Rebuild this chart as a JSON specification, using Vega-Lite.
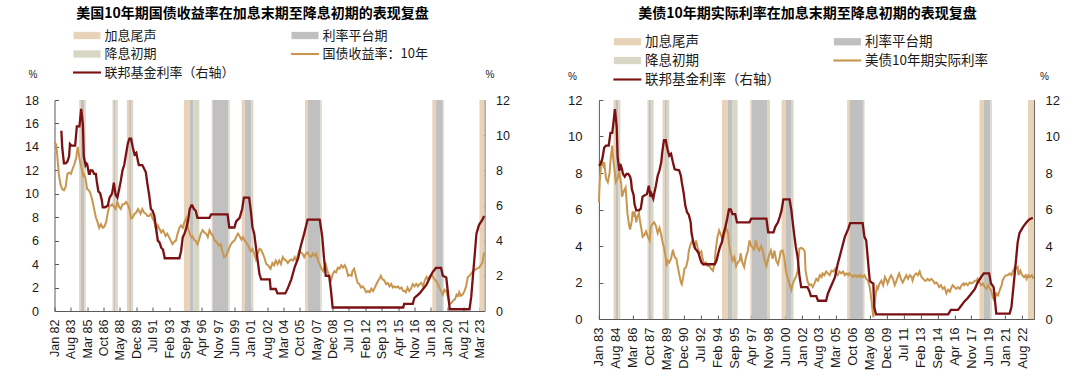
{
"$schema":"https://vega.github.io/schema/vega-lite/v6.json",
"background":"white",
"padding":{"left":24.5,"top":7,"right":0,"bottom":0},
"spacing":114.4,
"bounds":"flush",
"config":{"font":"Liberation Sans","view":{"stroke":null},"axis":{"grid":false,"domainColor":"#595959","tickColor":"#595959","labelColor":"#1a1a1a","labelFont":"Liberation Sans","titleFont":"Liberation Sans","titleFontWeight":"normal","titleColor":"#1a1a1a"}},
"resolve":{"scale":{"color":"independent"},"legend":{"color":"independent"}},
"datasets":{
"bandsL":[
{"d":"1984-05-21","e":"1984-07-18","t":"加息尾声"},{"d":"1984-07-18","e":"1984-11-15","t":"利率平台期"},{"d":"1984-11-15","e":"1985-01-12","t":"降息初期"},
{"d":"1987-08-12","e":"1987-10-01","t":"加息尾声"},{"d":"1987-10-01","e":"1987-11-27","t":"利率平台期"},{"d":"1987-11-27","e":"1988-02-18","t":"降息初期"},
{"d":"1989-01-03","e":"1989-03-24","t":"加息尾声"},{"d":"1989-03-24","e":"1989-06-03","t":"利率平台期"},{"d":"1989-06-03","e":"1989-08-15","t":"降息初期"},
{"d":"1994-07-12","e":"1995-02-01","t":"加息尾声"},{"d":"1995-02-01","e":"1995-06-18","t":"利率平台期"},{"d":"1995-06-18","e":"1996-01-06","t":"降息初期"},
{"d":"1997-03-18","e":"1997-04-21","t":"加息尾声"},{"d":"1997-04-21","e":"1998-10-27","t":"利率平台期"},{"d":"1998-10-27","e":"1998-12-15","t":"降息初期"},
{"d":"2000-02-12","e":"2000-06-01","t":"加息尾声"},{"d":"2000-06-01","e":"2001-01-21","t":"利率平台期"},{"d":"2001-01-21","e":"2001-04-01","t":"降息初期"},
{"d":"2006-04-01","e":"2006-07-01","t":"加息尾声"},{"d":"2006-07-01","e":"2007-09-24","t":"利率平台期"},{"d":"2007-09-24","e":"2007-11-12","t":"降息初期"},
{"d":"2018-07-27","e":"2018-12-06","t":"加息尾声"},{"d":"2018-12-06","e":"2019-08-01","t":"利率平台期"},{"d":"2019-08-01","e":"2019-09-03","t":"降息初期"},
{"d":"2023-02-15","e":"2023-08-13","t":"加息尾声"}],
"bandsR":[
{"d":"1984-05-15","e":"1984-07-20","t":"加息尾声"},{"d":"1984-07-20","e":"1984-10-20","t":"利率平台期"},{"d":"1984-10-20","e":"1985-01-01","t":"降息初期"},
{"d":"1987-07-18","e":"1987-09-01","t":"加息尾声"},{"d":"1987-09-01","e":"1987-11-12","t":"利率平台期"},{"d":"1987-11-12","e":"1988-02-12","t":"降息初期"},
{"d":"1988-12-15","e":"1989-03-03","t":"加息尾声"},{"d":"1989-03-03","e":"1989-05-10","t":"利率平台期"},{"d":"1989-05-10","e":"1989-08-01","t":"降息初期"},
{"d":"1994-07-03","e":"1995-01-15","t":"加息尾声"},{"d":"1995-01-15","e":"1995-07-03","t":"利率平台期"},{"d":"1995-07-03","e":"1995-12-21","t":"降息初期"},
{"d":"1997-02-27","e":"1997-04-12","t":"加息尾声"},{"d":"1997-04-12","e":"1998-10-12","t":"利率平台期"},{"d":"1998-10-12","e":"1999-01-01","t":"降息初期"},
{"d":"2000-02-03","e":"2000-06-18","t":"加息尾声"},{"d":"2000-06-18","e":"2001-01-10","t":"利率平台期"},{"d":"2001-01-10","e":"2001-03-18","t":"降息初期"},
{"d":"2006-03-21","e":"2006-06-21","t":"加息尾声"},{"d":"2006-06-21","e":"2007-09-10","t":"利率平台期"},{"d":"2007-09-10","e":"2007-11-06","t":"降息初期"},
{"d":"2018-08-06","e":"2019-01-01","t":"加息尾声"},{"d":"2019-01-01","e":"2019-08-06","t":"利率平台期"},{"d":"2019-08-06","e":"2019-10-01","t":"降息初期"},
{"d":"2023-02-15","e":"2023-09-07","t":"加息尾声"}],
"y10":[
{"d":"1982-01-01","v":14.4},{"d":"1982-03-01","v":14.2},{"d":"1982-04-01","v":13.5},{"d":"1982-06-01","v":11.7},{"d":"1982-08-01","v":10.8},{"d":"1982-10-01","v":10.4},{"d":"1982-12-01","v":10.3},{"d":"1983-02-01","v":10.6},{"d":"1983-04-01","v":11.7},{"d":"1983-06-01","v":11.8},{"d":"1983-08-01","v":11.7},{"d":"1983-10-01","v":12.1},{"d":"1983-12-01","v":12.5},{"d":"1984-02-01","v":13.0},{"d":"1984-04-01","v":14.0},{"d":"1984-06-01","v":13.0},{"d":"1984-08-01","v":12.3},{"d":"1984-10-01","v":11.6},{"d":"1984-11-01","v":11.7},{"d":"1985-01-01","v":11.3},{"d":"1985-03-01","v":10.4},{"d":"1985-05-01","v":10.3},{"d":"1985-07-01","v":10.0},{"d":"1985-09-01","v":9.4},{"d":"1985-11-01","v":8.7},{"d":"1986-01-01","v":8.0},{"d":"1986-03-01","v":7.6},{"d":"1986-05-01","v":7.1},{"d":"1986-07-01","v":7.4},{"d":"1986-09-01","v":7.1},{"d":"1986-11-01","v":7.2},{"d":"1987-01-01","v":7.6},{"d":"1987-03-01","v":8.4},{"d":"1987-05-01","v":9.0},{"d":"1987-07-01","v":9.0},{"d":"1987-08-01","v":9.1},{"d":"1987-10-01","v":8.9},{"d":"1987-12-01","v":8.7},{"d":"1988-02-01","v":9.3},{"d":"1988-04-01","v":8.9},{"d":"1988-06-01","v":8.7},{"d":"1988-08-01","v":9.1},{"d":"1988-10-01","v":9.1},{"d":"1988-12-01","v":9.3},{"d":"1989-02-01","v":9.1},{"d":"1989-04-01","v":8.7},{"d":"1989-06-01","v":7.9},{"d":"1989-08-01","v":8.0},{"d":"1989-10-01","v":8.3},{"d":"1989-12-01","v":8.4},{"d":"1990-02-01","v":8.7},{"d":"1990-03-01","v":8.6},{"d":"1990-05-01","v":8.3},{"d":"1990-07-01","v":8.7},{"d":"1990-09-01","v":8.4},{"d":"1990-11-01","v":8.3},{"d":"1991-01-01","v":8.1},{"d":"1991-03-01","v":8.1},{"d":"1991-05-01","v":8.3},{"d":"1991-07-01","v":7.9},{"d":"1991-09-01","v":7.6},{"d":"1991-11-01","v":6.9},{"d":"1992-01-01","v":7.3},{"d":"1992-03-01","v":7.0},{"d":"1992-05-01","v":6.7},{"d":"1992-07-01","v":6.9},{"d":"1992-09-01","v":6.6},{"d":"1992-10-01","v":6.4},{"d":"1992-12-01","v":6.6},{"d":"1993-02-01","v":6.3},{"d":"1993-04-01","v":6.0},{"d":"1993-06-01","v":5.7},{"d":"1993-08-01","v":5.9},{"d":"1993-10-01","v":6.0},{"d":"1993-12-01","v":6.6},{"d":"1994-02-01","v":7.1},{"d":"1994-04-01","v":7.3},{"d":"1994-06-01","v":7.1},{"d":"1994-08-01","v":7.6},{"d":"1994-10-01","v":7.9},{"d":"1994-12-01","v":7.1},{"d":"1995-02-01","v":6.6},{"d":"1995-04-01","v":6.3},{"d":"1995-05-01","v":6.4},{"d":"1995-07-01","v":6.1},{"d":"1995-09-01","v":6.0},{"d":"1995-11-01","v":5.7},{"d":"1996-01-01","v":6.1},{"d":"1996-03-01","v":6.6},{"d":"1996-05-01","v":6.9},{"d":"1996-07-01","v":6.7},{"d":"1996-09-01","v":6.6},{"d":"1996-11-01","v":6.3},{"d":"1997-01-01","v":6.9},{"d":"1997-03-01","v":6.6},{"d":"1997-05-01","v":6.4},{"d":"1997-07-01","v":6.0},{"d":"1997-09-01","v":5.9},{"d":"1997-11-01","v":5.7},{"d":"1997-12-01","v":5.6},{"d":"1998-02-01","v":5.7},{"d":"1998-04-01","v":5.1},{"d":"1998-06-01","v":4.6},{"d":"1998-08-01","v":4.7},{"d":"1998-10-01","v":5.0},{"d":"1998-12-01","v":5.4},{"d":"1999-02-01","v":5.7},{"d":"1999-04-01","v":5.9},{"d":"1999-06-01","v":6.0},{"d":"1999-08-01","v":6.3},{"d":"1999-10-01","v":6.6},{"d":"1999-12-01","v":6.4},{"d":"2000-02-01","v":6.1},{"d":"2000-04-01","v":6.3},{"d":"2000-06-01","v":6.0},{"d":"2000-07-01","v":5.9},{"d":"2000-09-01","v":5.7},{"d":"2000-11-01","v":5.4},{"d":"2001-01-01","v":5.1},{"d":"2001-03-01","v":5.3},{"d":"2001-05-01","v":4.9},{"d":"2001-07-01","v":4.4},{"d":"2001-09-01","v":4.9},{"d":"2001-11-01","v":5.3},{"d":"2002-01-01","v":5.2},{"d":"2002-03-01","v":4.9},{"d":"2002-05-01","v":4.5},{"d":"2002-07-01","v":4.0},{"d":"2002-09-01","v":3.9},{"d":"2002-11-01","v":3.7},{"d":"2002-12-01","v":3.6},{"d":"2003-02-01","v":4.1},{"d":"2003-04-01","v":3.9},{"d":"2003-06-01","v":4.3},{"d":"2003-08-01","v":4.0},{"d":"2003-10-01","v":4.3},{"d":"2003-12-01","v":4.0},{"d":"2004-02-01","v":4.6},{"d":"2004-04-01","v":4.4},{"d":"2004-06-01","v":4.3},{"d":"2004-08-01","v":4.1},{"d":"2004-10-01","v":4.3},{"d":"2004-12-01","v":4.4},{"d":"2005-02-01","v":4.3},{"d":"2005-04-01","v":4.6},{"d":"2005-06-01","v":4.3},{"d":"2005-07-01","v":4.6},{"d":"2005-09-01","v":5.1},{"d":"2005-11-01","v":5.0},{"d":"2006-01-01","v":4.9},{"d":"2006-03-01","v":4.6},{"d":"2006-05-01","v":4.9},{"d":"2006-07-01","v":5.0},{"d":"2006-09-01","v":4.7},{"d":"2006-11-01","v":4.6},{"d":"2007-01-01","v":4.9},{"d":"2007-03-01","v":4.7},{"d":"2007-05-01","v":4.9},{"d":"2007-07-01","v":4.3},{"d":"2007-09-01","v":4.0},{"d":"2007-11-01","v":3.6},{"d":"2008-01-01","v":3.4},{"d":"2008-02-01","v":3.7},{"d":"2008-04-01","v":4.0},{"d":"2008-06-01","v":3.4},{"d":"2008-08-01","v":3.0},{"d":"2008-10-01","v":2.6},{"d":"2008-12-01","v":3.1},{"d":"2009-02-01","v":3.4},{"d":"2009-04-01","v":3.3},{"d":"2009-06-01","v":3.7},{"d":"2009-08-01","v":3.6},{"d":"2009-10-01","v":3.9},{"d":"2009-12-01","v":3.7},{"d":"2010-02-01","v":3.9},{"d":"2010-04-01","v":3.6},{"d":"2010-06-01","v":3.0},{"d":"2010-08-01","v":3.1},{"d":"2010-10-01","v":3.0},{"d":"2010-11-01","v":3.4},{"d":"2011-01-01","v":3.6},{"d":"2011-03-01","v":3.0},{"d":"2011-05-01","v":2.4},{"d":"2011-07-01","v":2.3},{"d":"2011-09-01","v":2.0},{"d":"2011-11-01","v":2.1},{"d":"2012-01-01","v":1.9},{"d":"2012-03-01","v":1.6},{"d":"2012-05-01","v":1.7},{"d":"2012-07-01","v":1.6},{"d":"2012-09-01","v":1.9},{"d":"2012-11-01","v":1.7},{"d":"2013-01-01","v":2.0},{"d":"2013-03-01","v":2.3},{"d":"2013-05-01","v":2.6},{"d":"2013-06-01","v":2.7},{"d":"2013-08-01","v":3.0},{"d":"2013-10-01","v":2.7},{"d":"2013-12-01","v":2.6},{"d":"2014-02-01","v":2.3},{"d":"2014-04-01","v":2.4},{"d":"2014-06-01","v":2.1},{"d":"2014-08-01","v":2.3},{"d":"2014-10-01","v":2.0},{"d":"2014-12-01","v":2.1},{"d":"2015-02-01","v":2.0},{"d":"2015-04-01","v":2.1},{"d":"2015-06-01","v":1.9},{"d":"2015-08-01","v":2.0},{"d":"2015-10-01","v":1.7},{"d":"2015-12-01","v":1.7},{"d":"2016-01-01","v":1.6},{"d":"2016-03-01","v":2.0},{"d":"2016-05-01","v":1.7},{"d":"2016-07-01","v":1.9},{"d":"2016-09-01","v":2.3},{"d":"2016-11-01","v":2.1},{"d":"2017-01-01","v":2.3},{"d":"2017-03-01","v":2.1},{"d":"2017-05-01","v":2.3},{"d":"2017-07-01","v":2.4},{"d":"2017-09-01","v":2.1},{"d":"2017-11-01","v":2.6},{"d":"2018-01-01","v":2.9},{"d":"2018-03-01","v":2.7},{"d":"2018-05-01","v":3.0},{"d":"2018-07-01","v":3.1},{"d":"2018-08-01","v":3.0},{"d":"2018-10-01","v":2.7},{"d":"2018-12-01","v":2.6},{"d":"2019-02-01","v":2.3},{"d":"2019-04-01","v":2.0},{"d":"2019-06-01","v":1.7},{"d":"2019-08-01","v":1.4},{"d":"2019-10-01","v":1.8},{"d":"2019-12-01","v":1.7},{"d":"2020-02-01","v":1.1},{"d":"2020-04-01","v":0.6},{"d":"2020-06-01","v":0.7},{"d":"2020-08-01","v":0.9},{"d":"2020-10-01","v":1.0},{"d":"2020-12-01","v":1.4},{"d":"2021-02-01","v":1.3},{"d":"2021-03-01","v":1.6},{"d":"2021-05-01","v":1.3},{"d":"2021-07-01","v":1.4},{"d":"2021-09-01","v":1.7},{"d":"2021-11-01","v":2.1},{"d":"2022-01-01","v":2.9},{"d":"2022-03-01","v":3.0},{"d":"2022-07-01","v":3.4},{"d":"2022-11-01","v":3.6},{"d":"2023-02-01","v":3.7},{"d":"2023-06-01","v":4.1},{"d":"2023-08-01","v":5.0}],
"ffL":[
{"d":"1982-09-01","v":10.25},{"d":"1982-10-01","v":9.3},{"d":"1982-12-01","v":8.4},{"d":"1983-02-01","v":8.4},{"d":"1983-04-01","v":8.5},{"d":"1983-06-01","v":8.8},{"d":"1983-07-01","v":9.5},{"d":"1983-09-01","v":9.4},{"d":"1984-01-01","v":9.4},{"d":"1984-03-01","v":10.5},{"d":"1984-06-01","v":10.5},{"d":"1984-08-01","v":11.5},{"d":"1984-10-01","v":10.6},{"d":"1984-11-01","v":8.8},{"d":"1985-01-01","v":8.3},{"d":"1985-02-01","v":8.4},{"d":"1985-03-01","v":8.35},{"d":"1985-05-01","v":7.8},{"d":"1985-06-01","v":7.8},{"d":"1985-07-01","v":8.0},{"d":"1985-09-01","v":8.0},{"d":"1985-11-01","v":7.8},{"d":"1986-01-01","v":7.8},{"d":"1986-02-01","v":7.4},{"d":"1986-04-01","v":6.8},{"d":"1986-06-01","v":6.7},{"d":"1986-08-01","v":6.3},{"d":"1986-09-01","v":5.9},{"d":"1986-12-01","v":5.9},{"d":"1987-03-01","v":6.0},{"d":"1987-05-01","v":6.45},{"d":"1987-07-01","v":6.6},{"d":"1987-08-01","v":6.7},{"d":"1987-10-01","v":7.3},{"d":"1987-12-01","v":6.6},{"d":"1988-02-01","v":6.45},{"d":"1988-04-01","v":6.9},{"d":"1988-06-01","v":7.4},{"d":"1988-08-01","v":8.0},{"d":"1988-10-01","v":8.3},{"d":"1988-12-01","v":8.9},{"d":"1989-02-01","v":9.5},{"d":"1989-04-01","v":9.8},{"d":"1989-06-01","v":9.8},{"d":"1989-08-01","v":9.3},{"d":"1989-10-01","v":8.9},{"d":"1989-12-01","v":9.0},{"d":"1990-02-01","v":8.5},{"d":"1990-03-01","v":8.3},{"d":"1990-07-01","v":8.3},{"d":"1990-09-01","v":8.1},{"d":"1990-11-01","v":7.9},{"d":"1991-01-01","v":7.2},{"d":"1991-03-01","v":6.6},{"d":"1991-05-01","v":5.8},{"d":"1991-07-01","v":5.7},{"d":"1991-09-01","v":5.4},{"d":"1991-11-01","v":4.7},{"d":"1992-01-01","v":4.0},{"d":"1992-03-01","v":3.9},{"d":"1992-05-01","v":3.6},{"d":"1992-07-01","v":3.5},{"d":"1992-09-01","v":3.0},{"d":"1994-02-01","v":3.0},{"d":"1994-04-01","v":3.4},{"d":"1994-06-01","v":4.2},{"d":"1994-08-01","v":4.4},{"d":"1994-10-01","v":4.7},{"d":"1994-12-01","v":5.1},{"d":"1995-02-01","v":5.8},{"d":"1995-04-01","v":6.0},{"d":"1995-05-01","v":6.0},{"d":"1995-07-01","v":5.8},{"d":"1995-09-01","v":5.7},{"d":"1995-11-01","v":5.3},{"d":"1997-01-01","v":5.3},{"d":"1997-03-01","v":5.5},{"d":"1998-10-01","v":5.5},{"d":"1998-12-01","v":4.75},{"d":"1999-06-01","v":4.75},{"d":"1999-08-01","v":5.1},{"d":"1999-12-01","v":5.3},{"d":"2000-03-01","v":5.8},{"d":"2000-05-01","v":6.45},{"d":"2000-11-01","v":6.45},{"d":"2001-01-01","v":5.7},{"d":"2001-03-01","v":4.75},{"d":"2001-05-01","v":4.4},{"d":"2001-07-01","v":3.6},{"d":"2001-09-01","v":2.85},{"d":"2001-11-01","v":2.1},{"d":"2002-01-01","v":1.8},{"d":"2002-11-01","v":1.8},{"d":"2002-12-01","v":1.25},{"d":"2003-06-01","v":1.25},{"d":"2003-08-01","v":1.0},{"d":"2004-05-01","v":1.0},{"d":"2004-08-01","v":1.3},{"d":"2004-12-01","v":1.8},{"d":"2005-04-01","v":2.5},{"d":"2005-08-01","v":3.0},{"d":"2005-11-01","v":3.7},{"d":"2006-03-01","v":4.4},{"d":"2006-07-01","v":5.2},{"d":"2007-09-01","v":5.2},{"d":"2007-11-01","v":4.55},{"d":"2007-12-01","v":4.2},{"d":"2008-02-01","v":3.0},{"d":"2008-04-01","v":2.0},{"d":"2008-08-01","v":2.0},{"d":"2008-10-01","v":1.2},{"d":"2008-12-01","v":0.2},{"d":"2015-10-01","v":0.2},{"d":"2015-11-01","v":0.4},{"d":"2016-09-01","v":0.4},{"d":"2016-11-01","v":0.75},{"d":"2017-05-01","v":1.0},{"d":"2017-09-01","v":1.25},{"d":"2018-01-01","v":1.5},{"d":"2018-05-01","v":1.9},{"d":"2018-08-01","v":2.2},{"d":"2018-12-01","v":2.45},{"d":"2019-06-01","v":2.45},{"d":"2019-08-01","v":2.0},{"d":"2019-12-01","v":1.9},{"d":"2020-02-01","v":1.0},{"d":"2020-04-01","v":0.1},{"d":"2022-03-01","v":0.1},{"d":"2022-05-01","v":0.8},{"d":"2022-07-01","v":2.0},{"d":"2022-09-01","v":3.2},{"d":"2022-11-01","v":4.4},{"d":"2023-02-01","v":4.9},{"d":"2023-06-01","v":5.2},{"d":"2023-08-01","v":5.4}],
"real":[
{"d":"1983-01-01","v":6.4},{"d":"1983-02-01","v":7.6},{"d":"1983-04-01","v":8.7},{"d":"1983-06-01","v":8.4},{"d":"1983-07-01","v":8.6},{"d":"1983-09-01","v":7.7},{"d":"1983-11-01","v":7.5},{"d":"1984-01-01","v":8.0},{"d":"1984-02-01","v":8.7},{"d":"1984-04-01","v":9.5},{"d":"1984-05-01","v":8.8},{"d":"1984-07-01","v":8.0},{"d":"1984-08-01","v":7.5},{"d":"1984-10-01","v":7.7},{"d":"1984-12-01","v":8.05},{"d":"1985-02-01","v":7.4},{"d":"1985-03-01","v":6.7},{"d":"1985-05-01","v":7.0},{"d":"1985-07-01","v":7.2},{"d":"1985-08-01","v":6.5},{"d":"1985-09-01","v":5.8},{"d":"1985-11-01","v":5.1},{"d":"1985-12-01","v":4.9},{"d":"1986-02-01","v":5.4},{"d":"1986-03-01","v":5.9},{"d":"1986-04-01","v":5.6},{"d":"1986-05-01","v":5.9},{"d":"1986-07-01","v":5.3},{"d":"1986-08-01","v":5.6},{"d":"1986-10-01","v":5.8},{"d":"1986-11-01","v":5.4},{"d":"1987-01-01","v":4.85},{"d":"1987-02-01","v":4.5},{"d":"1987-04-01","v":4.6},{"d":"1987-06-01","v":4.8},{"d":"1987-08-01","v":4.5},{"d":"1987-10-01","v":4.3},{"d":"1987-11-01","v":5.0},{"d":"1988-01-01","v":5.2},{"d":"1988-03-01","v":5.3},{"d":"1988-05-01","v":5.1},{"d":"1988-07-01","v":4.7},{"d":"1988-09-01","v":5.0},{"d":"1988-11-01","v":4.6},{"d":"1988-12-01","v":4.3},{"d":"1989-02-01","v":3.9},{"d":"1989-04-01","v":3.4},{"d":"1989-05-01","v":2.9},{"d":"1989-06-01","v":3.2},{"d":"1989-08-01","v":3.1},{"d":"1989-10-01","v":3.3},{"d":"1989-12-01","v":3.8},{"d":"1990-02-01","v":3.4},{"d":"1990-04-01","v":3.3},{"d":"1990-05-01","v":3.0},{"d":"1990-07-01","v":2.5},{"d":"1990-09-01","v":2.0},{"d":"1990-10-01","v":1.9},{"d":"1990-12-01","v":2.4},{"d":"1991-01-01","v":2.75},{"d":"1991-03-01","v":2.85},{"d":"1991-05-01","v":3.3},{"d":"1991-06-01","v":3.75},{"d":"1991-08-01","v":4.1},{"d":"1991-10-01","v":4.3},{"d":"1991-12-01","v":3.9},{"d":"1992-02-01","v":4.3},{"d":"1992-04-01","v":3.85},{"d":"1992-06-01","v":3.6},{"d":"1992-08-01","v":3.7},{"d":"1992-09-01","v":3.4},{"d":"1992-11-01","v":3.0},{"d":"1993-01-01","v":3.1},{"d":"1993-03-01","v":2.9},{"d":"1993-05-01","v":2.9},{"d":"1993-07-01","v":2.75},{"d":"1993-09-01","v":2.65},{"d":"1993-11-01","v":3.1},{"d":"1993-12-01","v":3.75},{"d":"1994-02-01","v":4.5},{"d":"1994-04-01","v":4.85},{"d":"1994-06-01","v":4.6},{"d":"1994-08-01","v":4.3},{"d":"1994-10-01","v":4.7},{"d":"1994-12-01","v":4.95},{"d":"1995-02-01","v":4.7},{"d":"1995-03-01","v":4.1},{"d":"1995-05-01","v":3.6},{"d":"1995-07-01","v":3.2},{"d":"1995-09-01","v":3.4},{"d":"1995-11-01","v":2.9},{"d":"1996-01-01","v":3.1},{"d":"1996-03-01","v":3.2},{"d":"1996-04-01","v":3.6},{"d":"1996-06-01","v":3.1},{"d":"1996-08-01","v":2.85},{"d":"1996-10-01","v":3.4},{"d":"1996-12-01","v":3.7},{"d":"1997-02-01","v":4.3},{"d":"1997-04-01","v":4.0},{"d":"1997-06-01","v":3.9},{"d":"1997-07-01","v":3.75},{"d":"1997-09-01","v":4.3},{"d":"1997-11-01","v":3.9},{"d":"1998-01-01","v":3.75},{"d":"1998-03-01","v":4.0},{"d":"1998-05-01","v":3.75},{"d":"1998-07-01","v":3.2},{"d":"1998-09-01","v":2.9},{"d":"1998-10-01","v":3.1},{"d":"1998-12-01","v":3.5},{"d":"1999-02-01","v":3.75},{"d":"1999-04-01","v":3.3},{"d":"1999-06-01","v":3.75},{"d":"1999-08-01","v":3.2},{"d":"1999-10-01","v":3.0},{"d":"1999-12-01","v":3.4},{"d":"2000-01-01","v":3.7},{"d":"2000-03-01","v":3.75},{"d":"2000-05-01","v":3.4},{"d":"2000-07-01","v":2.6},{"d":"2000-09-01","v":2.2},{"d":"2000-11-01","v":1.9},{"d":"2001-01-01","v":1.6},{"d":"2001-02-01","v":1.85},{"d":"2001-04-01","v":2.1},{"d":"2001-06-01","v":2.3},{"d":"2001-08-01","v":2.6},{"d":"2001-10-01","v":3.85},{"d":"2001-12-01","v":3.9},{"d":"2002-02-01","v":3.85},{"d":"2002-04-01","v":3.7},{"d":"2002-05-01","v":2.65},{"d":"2002-07-01","v":2.1},{"d":"2002-09-01","v":1.85},{"d":"2002-11-01","v":1.9},{"d":"2003-01-01","v":1.75},{"d":"2003-03-01","v":1.95},{"d":"2003-05-01","v":2.2},{"d":"2003-07-01","v":2.1},{"d":"2003-09-01","v":2.4},{"d":"2003-11-01","v":2.3},{"d":"2003-12-01","v":2.5},{"d":"2004-02-01","v":2.4},{"d":"2004-04-01","v":2.6},{"d":"2004-06-01","v":2.5},{"d":"2004-08-01","v":2.4},{"d":"2004-10-01","v":2.65},{"d":"2004-12-01","v":2.6},{"d":"2005-02-01","v":2.75},{"d":"2005-03-01","v":2.5},{"d":"2005-05-01","v":2.4},{"d":"2005-07-01","v":2.6},{"d":"2005-09-01","v":2.5},{"d":"2005-11-01","v":2.6},{"d":"2006-01-01","v":2.4},{"d":"2006-03-01","v":2.5},{"d":"2006-05-01","v":2.4},{"d":"2006-06-01","v":2.5},{"d":"2006-08-01","v":2.4},{"d":"2006-10-01","v":2.3},{"d":"2006-12-01","v":2.4},{"d":"2007-02-01","v":2.3},{"d":"2007-04-01","v":2.4},{"d":"2007-06-01","v":2.3},{"d":"2007-07-01","v":2.4},{"d":"2007-09-01","v":2.3},{"d":"2007-11-01","v":2.4},{"d":"2008-01-01","v":2.2},{"d":"2008-03-01","v":2.1},{"d":"2008-05-01","v":1.75},{"d":"2008-07-01","v":1.0},{"d":"2008-08-01","v":0.5},{"d":"2008-09-01","v":0.1},{"d":"2008-10-01","v":0.65},{"d":"2008-12-01","v":1.5},{"d":"2009-01-01","v":1.75},{"d":"2009-02-01","v":1.65},{"d":"2009-04-01","v":1.95},{"d":"2009-06-01","v":2.1},{"d":"2009-08-01","v":1.85},{"d":"2009-10-01","v":2.3},{"d":"2009-12-01","v":2.1},{"d":"2010-01-01","v":1.95},{"d":"2010-03-01","v":2.2},{"d":"2010-05-01","v":2.4},{"d":"2010-07-01","v":2.2},{"d":"2010-09-01","v":1.85},{"d":"2010-11-01","v":2.1},{"d":"2011-01-01","v":2.4},{"d":"2011-02-01","v":2.5},{"d":"2011-04-01","v":2.2},{"d":"2011-06-01","v":2.0},{"d":"2011-08-01","v":2.2},{"d":"2011-10-01","v":2.4},{"d":"2011-12-01","v":2.2},{"d":"2012-02-01","v":2.4},{"d":"2012-04-01","v":2.3},{"d":"2012-05-01","v":2.1},{"d":"2012-07-01","v":2.4},{"d":"2012-09-01","v":2.5},{"d":"2012-11-01","v":2.4},{"d":"2013-01-01","v":2.6},{"d":"2013-03-01","v":2.3},{"d":"2013-05-01","v":2.2},{"d":"2013-07-01","v":2.1},{"d":"2013-08-01","v":2.1},{"d":"2013-10-01","v":2.2},{"d":"2013-12-01","v":2.1},{"d":"2014-02-01","v":2.2},{"d":"2014-04-01","v":2.1},{"d":"2014-06-01","v":1.95},{"d":"2014-08-01","v":2.0},{"d":"2014-10-01","v":1.85},{"d":"2014-11-01","v":1.75},{"d":"2015-01-01","v":1.85},{"d":"2015-03-01","v":1.65},{"d":"2015-05-01","v":1.75},{"d":"2015-07-01","v":1.4},{"d":"2015-09-01","v":1.6},{"d":"2015-11-01","v":1.5},{"d":"2015-12-01","v":1.65},{"d":"2016-02-01","v":1.85},{"d":"2016-04-01","v":1.75},{"d":"2016-06-01","v":1.65},{"d":"2016-08-01","v":1.75},{"d":"2016-10-01","v":1.65},{"d":"2016-12-01","v":1.85},{"d":"2017-02-01","v":1.95},{"d":"2017-03-01","v":1.85},{"d":"2017-05-01","v":1.95},{"d":"2017-07-01","v":1.85},{"d":"2017-09-01","v":2.0},{"d":"2017-11-01","v":1.95},{"d":"2018-01-01","v":2.0},{"d":"2018-03-01","v":2.1},{"d":"2018-05-01","v":2.1},{"d":"2018-06-01","v":2.2},{"d":"2018-08-01","v":2.0},{"d":"2018-10-01","v":1.85},{"d":"2018-12-01","v":1.95},{"d":"2019-02-01","v":1.75},{"d":"2019-04-01","v":1.65},{"d":"2019-06-01","v":1.85},{"d":"2019-07-01","v":1.75},{"d":"2019-09-01","v":1.6},{"d":"2019-11-01","v":1.2},{"d":"2020-01-01","v":1.0},{"d":"2020-03-01","v":1.4},{"d":"2020-05-01","v":1.3},{"d":"2020-07-01","v":1.6},{"d":"2020-09-01","v":1.85},{"d":"2020-10-01","v":2.1},{"d":"2020-12-01","v":2.3},{"d":"2021-02-01","v":2.4},{"d":"2021-04-01","v":2.4},{"d":"2021-06-01","v":2.5},{"d":"2021-08-01","v":2.4},{"d":"2021-10-01","v":2.65},{"d":"2021-12-01","v":2.85},{"d":"2022-01-01","v":2.75},{"d":"2022-03-01","v":2.85},{"d":"2022-04-01","v":2.4},{"d":"2022-06-01","v":2.65},{"d":"2022-08-01","v":2.4},{"d":"2022-10-01","v":2.3},{"d":"2022-12-01","v":2.4},{"d":"2023-01-01","v":2.2},{"d":"2023-03-01","v":2.4},{"d":"2023-05-01","v":2.3},{"d":"2023-07-01","v":2.4},{"d":"2023-09-01","v":2.2}],
"ffR":[
{"d":"1983-01-01","v":8.4},{"d":"1983-03-01","v":8.5},{"d":"1983-05-01","v":8.8},{"d":"1983-07-01","v":9.4},{"d":"1983-09-01","v":9.5},{"d":"1983-12-01","v":9.5},{"d":"1984-02-01","v":10.2},{"d":"1984-04-01","v":10.2},{"d":"1984-05-01","v":10.6},{"d":"1984-07-01","v":11.5},{"d":"1984-09-01","v":10.5},{"d":"1984-10-01","v":8.9},{"d":"1984-12-01","v":8.1},{"d":"1985-01-01","v":8.5},{"d":"1985-03-01","v":8.2},{"d":"1985-04-01","v":7.95},{"d":"1985-06-01","v":7.8},{"d":"1985-08-01","v":7.95},{"d":"1985-10-01","v":7.95},{"d":"1985-12-01","v":7.8},{"d":"1986-01-01","v":7.6},{"d":"1986-02-01","v":7.1},{"d":"1986-04-01","v":6.8},{"d":"1986-05-01","v":6.3},{"d":"1986-07-01","v":5.95},{"d":"1986-10-01","v":5.95},{"d":"1986-12-01","v":6.05},{"d":"1987-02-01","v":6.7},{"d":"1987-05-01","v":6.8},{"d":"1987-07-01","v":6.85},{"d":"1987-09-01","v":7.3},{"d":"1987-11-01","v":6.7},{"d":"1987-12-01","v":6.85},{"d":"1988-02-01","v":6.6},{"d":"1988-03-01","v":6.85},{"d":"1988-05-01","v":7.3},{"d":"1988-07-01","v":7.85},{"d":"1988-09-01","v":8.15},{"d":"1988-11-01","v":8.6},{"d":"1988-12-01","v":9.1},{"d":"1989-02-01","v":9.8},{"d":"1989-04-01","v":9.8},{"d":"1989-06-01","v":9.3},{"d":"1989-08-01","v":8.95},{"d":"1989-10-01","v":9.05},{"d":"1989-12-01","v":8.6},{"d":"1990-02-01","v":8.2},{"d":"1990-07-01","v":8.15},{"d":"1990-09-01","v":7.85},{"d":"1990-10-01","v":7.5},{"d":"1990-12-01","v":6.95},{"d":"1991-02-01","v":6.2},{"d":"1991-04-01","v":5.85},{"d":"1991-06-01","v":5.7},{"d":"1991-08-01","v":5.3},{"d":"1991-09-01","v":4.7},{"d":"1991-11-01","v":4.2},{"d":"1992-01-01","v":3.85},{"d":"1992-03-01","v":3.75},{"d":"1992-05-01","v":3.6},{"d":"1992-06-01","v":3.4},{"d":"1992-08-01","v":3.1},{"d":"1992-10-01","v":3.0},{"d":"1993-11-01","v":3.0},{"d":"1994-01-01","v":3.2},{"d":"1994-03-01","v":3.6},{"d":"1994-05-01","v":3.95},{"d":"1994-07-01","v":4.2},{"d":"1994-09-01","v":4.7},{"d":"1994-11-01","v":5.05},{"d":"1995-01-01","v":5.5},{"d":"1995-03-01","v":6.0},{"d":"1995-05-01","v":6.0},{"d":"1995-07-01","v":5.75},{"d":"1995-10-01","v":5.75},{"d":"1995-12-01","v":5.3},{"d":"1997-02-01","v":5.3},{"d":"1997-04-01","v":5.5},{"d":"1998-09-01","v":5.5},{"d":"1998-11-01","v":4.75},{"d":"1999-05-01","v":4.75},{"d":"1999-07-01","v":5.05},{"d":"1999-10-01","v":5.3},{"d":"1999-12-01","v":5.6},{"d":"2000-02-01","v":5.95},{"d":"2000-04-01","v":6.55},{"d":"2000-11-01","v":6.55},{"d":"2001-01-01","v":5.95},{"d":"2001-02-01","v":5.5},{"d":"2001-04-01","v":4.7},{"d":"2001-06-01","v":3.95},{"d":"2001-08-01","v":3.4},{"d":"2001-10-01","v":2.4},{"d":"2001-12-01","v":1.75},{"d":"2002-07-01","v":1.75},{"d":"2002-09-01","v":1.55},{"d":"2002-11-01","v":1.25},{"d":"2003-05-01","v":1.25},{"d":"2003-07-01","v":1.0},{"d":"2004-04-01","v":1.0},{"d":"2004-06-01","v":1.4},{"d":"2004-10-01","v":1.85},{"d":"2005-02-01","v":2.3},{"d":"2005-05-01","v":3.0},{"d":"2005-09-01","v":3.75},{"d":"2006-01-01","v":4.5},{"d":"2006-05-01","v":4.95},{"d":"2006-07-01","v":5.25},{"d":"2007-09-01","v":5.25},{"d":"2007-11-01","v":4.5},{"d":"2008-01-01","v":4.3},{"d":"2008-03-01","v":3.2},{"d":"2008-05-01","v":2.1},{"d":"2008-07-01","v":2.0},{"d":"2008-09-01","v":1.95},{"d":"2008-10-01","v":0.65},{"d":"2008-12-01","v":0.25},{"d":"2015-09-01","v":0.25},{"d":"2015-12-01","v":0.5},{"d":"2016-08-01","v":0.5},{"d":"2016-12-01","v":0.75},{"d":"2017-03-01","v":0.95},{"d":"2017-07-01","v":1.15},{"d":"2017-11-01","v":1.4},{"d":"2018-03-01","v":1.65},{"d":"2018-06-01","v":2.0},{"d":"2018-10-01","v":2.3},{"d":"2019-01-01","v":2.5},{"d":"2019-07-01","v":2.5},{"d":"2019-09-01","v":1.95},{"d":"2019-12-01","v":1.75},{"d":"2020-03-01","v":0.3},{"d":"2021-06-01","v":0.3},{"d":"2021-08-01","v":0.65},{"d":"2021-12-01","v":2.65},{"d":"2022-03-01","v":4.2},{"d":"2022-05-01","v":4.7},{"d":"2022-09-01","v":5.05},{"d":"2023-01-01","v":5.3},{"d":"2023-04-01","v":5.45},{"d":"2023-08-01","v":5.55}]
},
"hconcat":[
{
"width":430,"height":211,
"title":{"text":"美国10年期国债收益率在加息末期至降息初期的表现复盘","font":"Noto Sans CJK SC","fontSize":14,"fontWeight":"bold","color":"#000000","anchor":"middle","frame":"group","offset":7.5,"dx":-17},
"encoding":{"x":{"field":"d","type":"temporal","title":null,
"scale":{"type":"utc","domain":[{"year":1982,"month":1,"date":1,"utc":true},{"year":2023,"month":8,"date":13,"utc":true}]},
"axis":{"format":"%b %y","labelAngle":-90,"labelFontSize":12.5,"labelPadding":12,"tickSize":-4,"labelOverlap":false,"labelFlush":false,
"values":[{"year":1982,"month":1,"date":1,"utc":true},{"year":1983,"month":8,"date":1,"utc":true},{"year":1985,"month":3,"date":1,"utc":true},{"year":1986,"month":10,"date":1,"utc":true},{"year":1988,"month":5,"date":1,"utc":true},{"year":1989,"month":12,"date":1,"utc":true},{"year":1991,"month":7,"date":1,"utc":true},{"year":1993,"month":2,"date":1,"utc":true},{"year":1994,"month":9,"date":1,"utc":true},{"year":1996,"month":4,"date":1,"utc":true},{"year":1997,"month":11,"date":1,"utc":true},{"year":1999,"month":6,"date":1,"utc":true},{"year":2001,"month":1,"date":1,"utc":true},{"year":2002,"month":8,"date":1,"utc":true},{"year":2004,"month":3,"date":1,"utc":true},{"year":2005,"month":10,"date":1,"utc":true},{"year":2007,"month":5,"date":1,"utc":true},{"year":2008,"month":12,"date":1,"utc":true},{"year":2010,"month":7,"date":1,"utc":true},{"year":2012,"month":2,"date":1,"utc":true},{"year":2013,"month":9,"date":1,"utc":true},{"year":2015,"month":4,"date":1,"utc":true},{"year":2016,"month":11,"date":1,"utc":true},{"year":2018,"month":6,"date":1,"utc":true},{"year":2020,"month":1,"date":1,"utc":true},{"year":2021,"month":8,"date":1,"utc":true},{"year":2023,"month":3,"date":1,"utc":true}]}}},
"layer":[
{"data":{"name":"bandsL"},"mark":{"type":"rect"},
"encoding":{"x2":{"field":"e"},
"color":{"field":"t","type":"nominal","scale":{"domain":["加息尾声","利率平台期","降息初期","国债收益率：10年","联邦基金利率（右轴）"],"range":["#E8D2B8","#C0C0C0","#D8D7C5","#C8964E","#7B1113"]},
"legend":{"title":null,"orient":"none","direction":"horizontal","legendX":25.5,"legendY":-71.5,"columns":2,"columnPadding":56,"rowPadding":4.5,"symbolSize":196,"labelOffset":10.5,"labelFont":"Noto Sans CJK SC","labelFontSize":13,"labelColor":"#1a1a1a","padding":0,"labelLimit":300,
"labelExpr":"datum.value === '联邦基金利率（右轴）' ? '  ' + datum.label : datum.label",
"encode":{"symbols":{"update":{"shape":{"signal":"datum.index < 3 ? 'M-1.93,-0.52H1.93V0.52H-1.93Z' : 'M-2,-0.15H2V0.15H-2Z'"},"fill":{"signal":"['#E8D2B8','#C0C0C0','#D8D7C5','#C8964E','#7B1113'][datum.index]"},"strokeWidth":{"value":0},"opacity":{"value":1},"fillOpacity":{"value":1}}}}}}}},
{"data":{"name":"y10"},"mark":{"type":"line","strokeWidth":2},
"encoding":{"y":{"field":"v","type":"quantitative","scale":{"domain":[0,18]},"axis":{"title":"%","titleAngle":0,"titleX":-22,"titleY":-26,"titleAlign":"center","titleBaseline":"middle","titleFontSize":10,"values":[0,2,4,6,8,10,12,14,16,18],"labelFontSize":12.5,"labelPadding":20,"tickSize":-4,"labelFlush":false,"labelOverlap":false}},
"color":{"datum":"国债收益率：10年","type":"nominal"}}},
{"data":{"name":"ffL"},"mark":{"type":"line","strokeWidth":2.3},
"encoding":{"y":{"field":"v","type":"quantitative","scale":{"domain":[0,12]},"axis":{"orient":"right","title":"%","titleAngle":0,"titleX":5,"titleY":-26,"titleAlign":"center","titleBaseline":"middle","titleFontSize":10,"values":[0,2,4,6,8,10,12],"labelFontSize":12.5,"labelPadding":15,"tickSize":-4,"labelFlush":false,"labelOverlap":false}},
"color":{"datum":"联邦基金利率（右轴）","type":"nominal"}}}
],
"resolve":{"scale":{"y":"independent"}}
},
{
"width":435,"height":219,
"title":{"text":"美债10年期实际利率在加息末期至降息初期的表现复盘","font":"Noto Sans CJK SC","fontSize":14,"fontWeight":"bold","color":"#000000","anchor":"middle","frame":"group","offset":13.5,"dx":-9},
"encoding":{"x":{"field":"d","type":"temporal","title":null,
"scale":{"type":"utc","domain":[{"year":1983,"month":1,"date":1,"utc":true},{"year":2023,"month":9,"date":7,"utc":true}]},
"axis":{"format":"%b %y","labelAngle":-90,"labelFontSize":13,"labelPadding":12,"tickSize":-4,"labelOverlap":false,"labelFlush":false,
"values":[{"year":1983,"month":1,"date":1,"utc":true},{"year":1984,"month":8,"date":1,"utc":true},{"year":1986,"month":3,"date":1,"utc":true},{"year":1987,"month":10,"date":1,"utc":true},{"year":1989,"month":5,"date":1,"utc":true},{"year":1990,"month":12,"date":1,"utc":true},{"year":1992,"month":7,"date":1,"utc":true},{"year":1994,"month":2,"date":1,"utc":true},{"year":1995,"month":9,"date":1,"utc":true},{"year":1997,"month":4,"date":1,"utc":true},{"year":1998,"month":11,"date":1,"utc":true},{"year":2000,"month":6,"date":1,"utc":true},{"year":2002,"month":1,"date":1,"utc":true},{"year":2003,"month":8,"date":1,"utc":true},{"year":2005,"month":3,"date":1,"utc":true},{"year":2006,"month":10,"date":1,"utc":true},{"year":2008,"month":5,"date":1,"utc":true},{"year":2009,"month":12,"date":1,"utc":true},{"year":2011,"month":7,"date":1,"utc":true},{"year":2013,"month":2,"date":1,"utc":true},{"year":2014,"month":9,"date":1,"utc":true},{"year":2016,"month":4,"date":1,"utc":true},{"year":2017,"month":11,"date":1,"utc":true},{"year":2019,"month":6,"date":1,"utc":true},{"year":2021,"month":1,"date":1,"utc":true},{"year":2022,"month":8,"date":1,"utc":true}]}}},
"layer":[
{"data":{"name":"bandsR"},"mark":{"type":"rect"},
"encoding":{"x2":{"field":"e"},
"color":{"field":"t","type":"nominal","scale":{"domain":["加息尾声","利率平台期","降息初期","美债10年期实际利率","联邦基金利率（右轴）"],"range":["#E8D2B8","#C0C0C0","#D8D7C5","#C8964E","#7B1113"]},
"legend":{"title":null,"orient":"none","direction":"horizontal","legendX":21.5,"legendY":-65.5,"columns":2,"columnPadding":53,"rowPadding":5,"symbolSize":196,"labelOffset":10.5,"labelFont":"Noto Sans CJK SC","labelFontSize":13.5,"labelColor":"#1a1a1a","padding":0,"labelLimit":300,
"labelExpr":"datum.value === '联邦基金利率（右轴）' ? '  ' + datum.label : datum.label",
"encode":{"symbols":{"update":{"shape":{"signal":"datum.index < 3 ? 'M-1.93,-0.52H1.93V0.52H-1.93Z' : 'M-2,-0.15H2V0.15H-2Z'"},"fill":{"signal":"['#E8D2B8','#C0C0C0','#D8D7C5','#C8964E','#7B1113'][datum.index]"},"strokeWidth":{"value":0},"opacity":{"value":1},"fillOpacity":{"value":1}}}}}}}},
{"data":{"name":"real"},"mark":{"type":"line","strokeWidth":2},
"encoding":{"y":{"field":"v","type":"quantitative","scale":{"domain":[0,12]},"axis":{"title":"%","titleAngle":0,"titleX":-27,"titleY":-24,"titleAlign":"center","titleBaseline":"middle","titleFontSize":10,"values":[0,2,4,6,8,10,12],"labelFontSize":13,"labelPadding":21,"tickSize":-4,"labelFlush":false,"labelOverlap":false}},
"color":{"datum":"美债10年期实际利率","type":"nominal"}}},
{"data":{"name":"ffR"},"mark":{"type":"line","strokeWidth":2.3},
"encoding":{"y":{"field":"v","type":"quantitative","scale":{"domain":[0,12]},"axis":{"orient":"right","title":"%","titleAngle":0,"titleX":10,"titleY":-24,"titleAlign":"center","titleBaseline":"middle","titleFontSize":10,"values":[0,2,4,6,8,10,12],"labelFontSize":13,"labelPadding":15,"tickSize":-4,"labelFlush":false,"labelOverlap":false}},
"color":{"datum":"联邦基金利率（右轴）","type":"nominal"}}}
],
"resolve":{"scale":{"y":"independent"}}
}
]
}
